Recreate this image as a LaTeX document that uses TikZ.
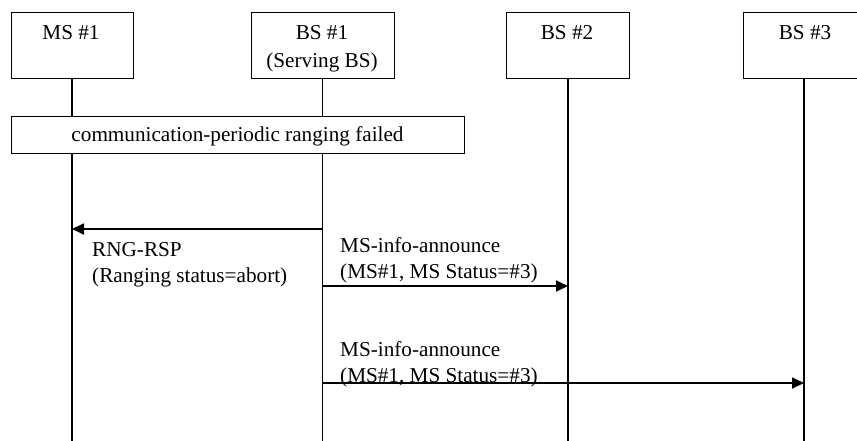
\documentclass[tikz,border=0pt]{standalone}
\usepackage{fontspec}
\setmainfont{Liberation Serif}
\usetikzlibrary{arrows.meta}

\begin{document}
\begin{tikzpicture}[x=1pt, y=-1pt,
    font=\fontsize{21.2}{26}\selectfont,
    entity/.style={draw, line width=0.8pt, minimum height=66pt, anchor=north, inner sep=0pt},
    entname/.style={anchor=north, align=center, inner sep=0pt, font=\fontsize{21.2}{28}\selectfont},
    lifeline/.style={line width=1.8pt},
    msg/.style={anchor=north west, align=left, inner sep=0pt},
    sig/.style={line width=1.8pt, -{Triangle[length=12pt,width=11pt]}}]
\useasboundingbox (0,0) rectangle (857,440);
\clip (0,0) rectangle (857,440);

% entities
\node[entity, minimum width=122pt] (ms1) at (72,12) {};
\node[entity, minimum width=143pt] (bs1) at (322.5,12) {};
\node[entity, minimum width=123pt] (bs2) at (568,12) {};
\node[entity, minimum width=122pt] (bs3) at (804,12) {};
\node[entname] (ms1_t) at (71,25) {MS \#1};
\node[entname] (bs1_t) at (322,25) {BS \#1\\(Serving BS)};
\node[entname] (bs2_t) at (567,25) {BS \#2};
\node[entname] (bs3_t) at (805,25) {BS \#3};

% lifelines
\coordinate (ms1_end) at (ms1.south |- 0,445);
\coordinate (bs1_end) at (bs1.south |- 0,445);
\coordinate (bs2_end) at (bs2.south |- 0,445);
\coordinate (bs3_end) at (bs3.south |- 0,445);
\draw[lifeline] (ms1.south) -- (ms1_end);
\draw[lifeline] (bs1.south) -- (bs1_end);
\draw[lifeline] (bs2.south) -- (bs2_end);
\draw[lifeline] (bs3.south) -- (bs3_end);

% ranging failed
\node[draw, line width=0.8pt, fill=white, minimum width=453pt, minimum height=37pt, inner sep=0pt,
      text height=19.5pt, text depth=4.6pt]
   (fail) at (237.5,134.5) {communication-periodic ranging failed};

% messages
\coordinate (rsp_from) at (bs1.south |- 0,229);
\coordinate (rsp_to)   at (ms1.south |- 0,229);
\draw[sig] (rsp_from) -- (rsp_to);
\node[msg] (rsp) at (92,242) {RNG-RSP\\(Ranging status=abort)};

\coordinate (inf2_from) at (bs1.south |- 0,286);
\coordinate (inf2_to)   at (bs2.south |- 0,286);
\node[msg] (inf2) at (340,237.5) {MS-info-announce\\(MS\#1, MS Status=\#3)};
\draw[sig] (inf2_from) -- (inf2_to);

\coordinate (inf3_from) at (bs1.south |- 0,383);
\coordinate (inf3_to)   at (bs3.south |- 0,383);
\node[msg] (inf3) at (340,341.5) {MS-info-announce\\(MS\#1, MS Status=\#3)};
\draw[sig] (inf3_from) -- (inf3_to);
%--------end graphics code---------
\end{tikzpicture}
\end{document}
